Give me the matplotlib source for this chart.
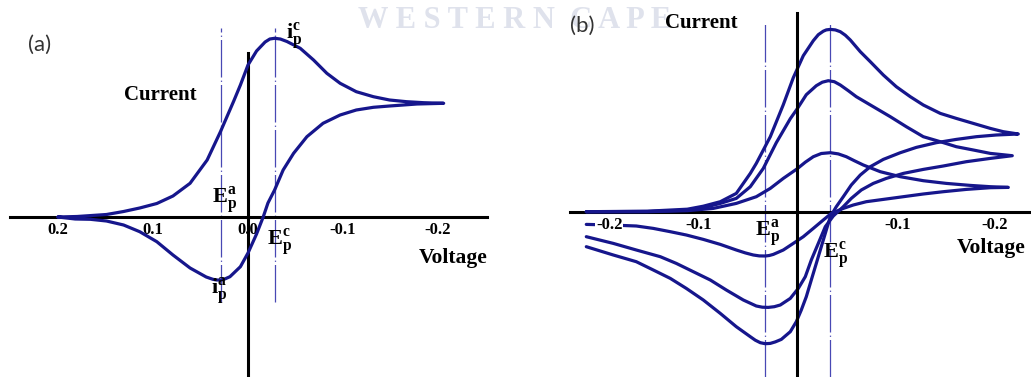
import matplotlib.pyplot as plt

plt.rcParams['mathtext.fontset'] = 'custom'
plt.rcParams['mathtext.bf'] = 'Liberation Serif:bold'
plt.rcParams['mathtext.rm'] = 'Liberation Serif'

CURVE = '#16168c'
GUIDE = '#4848b4'
SERIF = dict(family='Liberation Serif', weight='bold')

# (a) one reversible voltammogram: forward sweep then return sweep
a_v = [0.200, 0.180, 0.149, 0.131, 0.114, 0.096, 0.079, 0.061, 0.043, 0.029,
       0.015, 0.008, 0.000, -0.009, -0.018, -0.023, -0.028, -0.034, -0.041,
       -0.055, -0.069, -0.083, -0.097, -0.114, -0.132, -0.149, -0.167, -0.185,
       -0.206,
       -0.178, -0.149, -0.132, -0.114, -0.097, -0.079, -0.062, -0.048, -0.037,
       -0.028, -0.021, -0.016, -0.009, 0.000, 0.008, 0.019, 0.024, 0.028,
       0.033, 0.037, 0.044, 0.051, 0.061, 0.070, 0.079, 0.096, 0.114, 0.131,
       0.149, 0.166, 0.182, 0.200]
a_i = [0.0, 0.05, 0.25, 0.55, 0.9, 1.35, 2.1, 3.37, 5.7, 8.53,
       11.6, 13.2, 15.2, 16.6, 17.5, 17.8, 17.87, 17.8, 17.55,
       16.87, 15.7, 14.37, 13.37, 12.53, 12.03, 11.7, 11.53, 11.43,
       11.37,
       11.3, 11.1, 10.97, 10.7, 10.2, 9.37, 8.03, 6.37, 4.7,
       2.7, 1.4, 0.0, -1.7, -3.6, -4.97, -5.97, -6.18, -6.3,
       -6.3, -6.23, -6.0, -5.63, -5.1, -4.45, -3.8, -2.47, -1.47, -0.8,
       -0.4, -0.23, -0.2, 0.0]
a_ep = [0.028, -0.028]
a_ticks = [0.2, 0.1, 0.0, -0.1, -0.2]
a_ticklabels = ['0.2', '0.1', '0.0', '-0.1', '-0.2']

# (b) the same couple at three scan rates
b_small_v = [0.211, 0.150, 0.110, 0.084, 0.061, 0.041, 0.027, 0.014, 0.000,
             -0.008, -0.016, -0.024, -0.033, -0.041, -0.049, -0.057, -0.066,
             -0.083, -0.103, -0.126, -0.149, -0.173, -0.193, -0.211,
             -0.193, -0.169, -0.146, -0.126, -0.106, -0.086, -0.069, -0.056,
             -0.046, -0.034, -0.026, -0.016, -0.006, 0.004, 0.014, 0.024,
             0.028, 0.032, 0.038, 0.044, 0.052, 0.061, 0.077, 0.094, 0.111,
             0.127, 0.144, 0.161, 0.187, 0.211]
b_small_i = [0.0, 0.0, 0.1, 0.33, 0.83, 1.5, 2.33, 3.33, 4.3,
             4.95, 5.5, 5.82, 5.9, 5.78, 5.5, 5.1, 4.67,
             4.0, 3.5, 3.1, 2.83, 2.63, 2.5, 2.43,
             2.4, 2.23, 2.0, 1.77, 1.5, 1.23, 1.0, 0.67,
             0.33, -0.17, -0.83, -1.67, -2.5, -3.17, -3.83, -4.27,
             -4.38, -4.43, -4.42, -4.33, -4.12, -3.83, -3.27, -2.77, -2.33,
             -2.0, -1.67, -1.43, -1.33, -1.27]

b_mid_v = [0.211, 0.150, 0.110, 0.094, 0.077, 0.061, 0.047, 0.034, 0.021,
           0.007, 0.000, -0.009, -0.019, -0.025, -0.031, -0.037, -0.043,
           -0.051, -0.059, -0.076, -0.093, -0.109, -0.126, -0.143, -0.159,
           -0.176, -0.193, -0.215,
           -0.193, -0.169, -0.146, -0.126, -0.106, -0.089, -0.076, -0.064,
           -0.054, -0.046, -0.036, -0.028, -0.021, -0.014, -0.008, -0.001,
           0.007, 0.017, 0.023, 0.029, 0.035, 0.041, 0.054, 0.071, 0.087,
           0.104, 0.121, 0.137, 0.161, 0.184, 0.211]
b_mid_i = [0.0, 0.02, 0.15, 0.4, 0.83, 1.33, 2.5, 4.33, 6.9,
           9.3, 10.3, 11.7, 12.6, 12.95, 13.1, 13.0, 12.67,
           12.1, 11.5, 10.5, 9.5, 8.5, 7.5, 7.0, 6.5,
           6.17, 5.83, 5.6,
           5.33, 5.0, 4.57, 4.23, 3.83, 3.33, 2.83, 2.17,
           1.33, 0.5, -0.43, -1.5, -3.17, -4.83, -6.5, -7.67,
           -8.67, -9.33, -9.5, -9.57, -9.55, -9.43, -8.83, -7.83, -6.83,
           -6.0, -5.17, -4.5, -3.83, -3.17, -2.5]

b_big_v = [0.211, 0.150, 0.110, 0.094, 0.077, 0.061, 0.047, 0.041, 0.027,
           0.014, 0.004, -0.006, -0.016, -0.021, -0.026, -0.029, -0.033,
           -0.038, -0.043, -0.048, -0.053, -0.063, -0.073, -0.086, -0.099,
           -0.113, -0.126, -0.143, -0.159, -0.176, -0.193, -0.206, -0.221,
           -0.199, -0.179, -0.159, -0.139, -0.119, -0.103, -0.086, -0.073,
           -0.063, -0.054, -0.046, -0.039, -0.033, -0.029, -0.024, -0.019,
           -0.014, -0.009, -0.004, 0.001, 0.007, 0.016, 0.022, 0.027, 0.032,
           0.037, 0.042, 0.047, 0.061, 0.077, 0.094, 0.111, 0.127, 0.144,
           0.161, 0.184, 0.211]
b_big_i = [0.0, 0.05, 0.25, 0.55, 1.0, 1.83, 3.83, 4.83, 7.5,
           10.7, 13.4, 15.6, 17.1, 17.7, 18.05, 18.18, 18.23,
           18.18, 18.0, 17.65, 17.17, 16.0, 15.0, 13.67, 12.5,
           11.5, 10.67, 9.83, 9.33, 8.83, 8.33, 8.0, 7.77,
           7.67, 7.5, 7.23, 6.9, 6.43, 5.9, 5.23, 4.5,
           3.67, 2.67, 1.5, 0.5, -0.5, -1.83, -3.5, -5.17,
           -6.83, -8.5, -9.83, -11.0, -12.0, -12.77, -13.02, -13.17, -13.2,
           -13.1, -12.85, -12.5, -11.5, -10.17, -8.83, -7.67, -6.67, -5.83,
           -5.0, -4.33, -3.5]
b_ep = [0.032, -0.033]
b_ticks = [0.188, 0.099, -0.100, -0.197]
b_ticklabels = ['-0.2', '-0.1', '-0.1', '-0.2']

W, H = 1031, 377
fig = plt.figure(figsize=(W / 100, H / 100), dpi=100)
ax_a = fig.add_axes([0, 0, 515 / W, 1])
ax_b = fig.add_axes([515 / W, 0, 516 / W, 1])

ax_a.set_xlim(0.2611, -0.2811)
ax_a.set_ylim(-16.0, 21.7)
ax_b.set_xlim(0.2823, -0.2337)
ax_b.set_ylim(-16.53, 21.17)

for ax in (ax_a, ax_b):
    ax.patch.set_alpha(0)
    ax.spines['top'].set_visible(False)
    ax.spines['right'].set_visible(False)
    for side in ('left', 'bottom'):
        ax.spines[side].set_position(('data', 0))
        ax.spines[side].set_linewidth(2.2)
        ax.spines[side].set_color('black')
    ax.set_yticks([])
    ax.tick_params(axis='x', length=0, pad=3.5)

ax_a.spines['bottom'].set_bounds(-0.2516, 0.2505)
ax_a.spines['left'].set_bounds(-16.0, 16.4)
ax_b.spines['bottom'].set_bounds(-0.2337, 0.2273)
ax_b.spines['left'].set_bounds(-16.53, 19.87)
ax_b.spines['left'].set_zorder(4)

ax_a.set_xticks(a_ticks, a_ticklabels, fontsize=12, **SERIF)
ax_b.set_xticks(b_ticks, b_ticklabels, fontsize=12, **SERIF)
ax_b.xaxis.set_zorder(3.5)
for lbl in ax_b.get_xticklabels():
    lbl.set_bbox(dict(facecolor='white', edgecolor='none', pad=0.6))

# peak potential guides
dash = (0, (30, 2.5, 1, 2.5))
for v in a_ep:
    ax_a.axvline(v, ymin=0.199, ymax=0.926, color=GUIDE, lw=0.9, ls=dash, zorder=1)
for v in b_ep:
    ax_b.axvline(v, ymin=0.0, ymax=0.942, color=GUIDE, lw=0.9, ls=dash, zorder=1)

style = dict(color=CURVE, lw=2.3, solid_joinstyle='round', solid_capstyle='round', zorder=3)
ax_a.plot(a_v, a_i, **style)
for v, i in ((b_small_v, b_small_i), (b_mid_v, b_mid_i), (b_big_v, b_big_i)):
    ax_b.plot(v, i, **style)


def put(x, y, s, ha='center', **kw):
    fig.text(x / W, 1 - y / H, s, ha=ha, va='center', **kw)


put(358, 20, 'W E S T E R N  C A P E', ha='left', fontsize=22, color='#dfe2ec',
    zorder=1, **SERIF)

put(40, 45, '(a)', fontsize=16, family='Lato', color='#333333', zorder=3)
put(582, 26, '(b)', fontsize=16, family='Lato', color='#333333', zorder=3)

put(160, 95, 'Current', fontsize=15, zorder=3, **SERIF)
put(701, 23, 'Current', fontsize=15, zorder=3, **SERIF)
put(453, 258, 'Voltage', fontsize=15.5, zorder=3, **SERIF)
put(957, 248, 'Voltage', ha='left', fontsize=15.5, zorder=3, **SERIF)

put(225, 200, r'$\mathbf{E}_\mathbf{p}^\mathbf{a}$', fontsize=16, zorder=3)
put(280, 242, r'$\mathbf{E}_\mathbf{p}^\mathbf{c}$', fontsize=16, zorder=3)
put(294, 36, r'$\mathbf{i}_\mathbf{p}^\mathbf{c}$', fontsize=16, zorder=3)
put(219, 291, r'$\mathbf{i}_\mathbf{p}^\mathbf{a}$', fontsize=16, zorder=3)
put(768, 233, r'$\mathbf{E}_\mathbf{p}^\mathbf{a}$', fontsize=16, zorder=3)
put(836, 255, r'$\mathbf{E}_\mathbf{p}^\mathbf{c}$', fontsize=16, zorder=3)

fig.savefig('out.png', dpi=100, facecolor='white')
